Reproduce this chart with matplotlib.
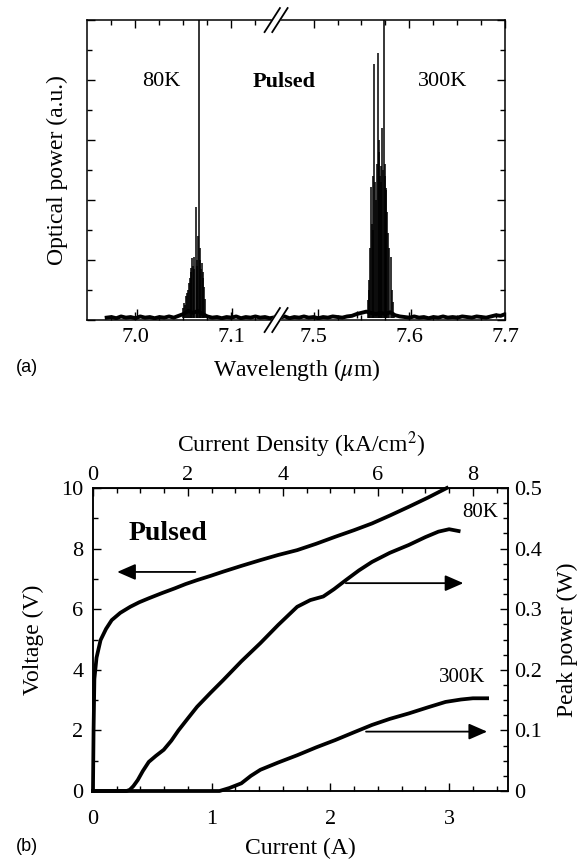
import matplotlib.pyplot as plt
from matplotlib.ticker import MultipleLocator, FixedLocator, FuncFormatter

plt.rcParams['font.family'] = ['Liberation Serif', 'DejaVu Serif']
plt.rcParams['mathtext.fontset'] = 'stix'

# ---------------- panel (a): lasing spectra ----------------
GAP = 0.3144      # wavelength cut out by the axis break (um)
BREAK_U = 7.1466  # position of the break on the plotting axis

# baseline noise, 80K side
base_l_wl = [6.970, 6.975, 6.980, 6.985, 6.990, 6.995, 7.000, 7.005, 7.010, 7.015,
             7.020, 7.025, 7.030, 7.035, 7.040, 7.045, 7.050, 7.055, 7.060, 7.065,
             7.070, 7.075, 7.080, 7.085, 7.090, 7.095, 7.100, 7.105, 7.110, 7.115,
             7.120, 7.125, 7.130, 7.135, 7.140, 7.1466]
base_l = [0.04, 0.05, 0.03, 0.06, 0.04, 0.05, 0.03, 0.06, 0.04, 0.05,
          0.03, 0.05, 0.04, 0.06, 0.04, 0.07, 0.10, 0.15, 0.12, 0.15,
          0.10, 0.06, 0.04, 0.05, 0.03, 0.05, 0.04, 0.06, 0.03, 0.05,
          0.04, 0.06, 0.04, 0.05, 0.03, 0.05]

# baseline noise, 300K side
base_r_wl = [7.461, 7.465, 7.470, 7.475, 7.480, 7.485, 7.490, 7.495, 7.500, 7.505,
             7.510, 7.515, 7.520, 7.525, 7.530, 7.535, 7.540, 7.545, 7.550, 7.555,
             7.560, 7.565, 7.570, 7.575, 7.580, 7.585, 7.590, 7.595, 7.600, 7.605,
             7.610, 7.615, 7.620, 7.625, 7.630, 7.635, 7.640, 7.645, 7.650, 7.655,
             7.660, 7.665, 7.670, 7.675, 7.680, 7.685, 7.690, 7.695, 7.700]
base_r = [0.05, 0.04, 0.06, 0.03, 0.05, 0.04, 0.06, 0.04, 0.05, 0.03,
          0.05, 0.04, 0.06, 0.05, 0.04, 0.06, 0.07, 0.10, 0.12, 0.14,
          0.12, 0.10, 0.12, 0.10, 0.13, 0.08, 0.06, 0.05, 0.04, 0.06,
          0.04, 0.05, 0.03, 0.05, 0.04, 0.06, 0.04, 0.05, 0.04, 0.06,
          0.05, 0.04, 0.06, 0.05, 0.04, 0.06, 0.08, 0.07, 0.10]

# small isolated noise spikes
spike_wl = [7.002, 7.101, 7.505, 7.545, 7.602, 7.690]
spike_h = [0.18, 0.20, 0.18, 0.15, 0.18, 0.12]

# longitudinal modes, 80K
m80_wl = [7.0491, 7.0502, 7.0512, 7.0522, 7.0533, 7.0543, 7.0553, 7.0564, 7.0575,
          7.0584, 7.0590, 7.0598, 7.0606, 7.0615, 7.0630, 7.0638, 7.0645, 7.0652,
          7.0660, 7.0668, 7.0676, 7.0684, 7.0692, 7.0699, 7.0706, 7.0713, 7.0720]
m80_h = [0.20, 0.28, 0.25, 0.40, 0.45, 0.50, 0.62, 0.70, 0.87,
         0.80, 1.03, 0.90, 1.05, 0.85, 1.89, 1.00, 0.90, 1.40,
         5.60, 1.20, 1.00, 0.85, 0.95, 0.80, 0.70, 0.55, 0.35]

# longitudinal modes, 300K
m300_wl = [7.5564, 7.5574, 7.5583, 7.5590, 7.5596, 7.5605, 7.5615, 7.5625, 7.5634,
           7.5644, 7.5653, 7.5663, 7.5673, 7.5680, 7.5687, 7.5694, 7.5700, 7.5708,
           7.5716, 7.5724, 7.5733, 7.5740, 7.5746, 7.5753, 7.5759, 7.5768, 7.5778,
           7.5790, 7.5806, 7.5817, 7.5827, 7.5837]
m300_h = [0.33, 0.50, 0.67, 1.20, 2.22, 1.60, 1.50, 2.40, 4.27,
          2.30, 2.00, 2.60, 4.45, 2.80, 3.00, 2.40, 2.56, 2.30,
          3.20, 2.50, 5.60, 2.60, 2.40, 2.20, 2.17, 1.80, 1.45,
          1.20, 1.05, 0.50, 0.30, 0.12]

wl_ticks = [7.0, 7.1, 7.5, 7.6, 7.7]
wl_minor = [6.975, 7.025, 7.05, 7.075, 7.125, 7.525, 7.55, 7.575, 7.625, 7.65, 7.675]

# ---------------- panel (b): L-I-V ----------------
v_i = [0.0, 0.005, 0.012, 0.03, 0.064, 0.11, 0.158, 0.23, 0.314, 0.39, 0.47, 0.58,
       0.69, 0.78, 0.877, 0.99, 1.097, 1.25, 1.41, 1.56, 1.72, 1.88, 2.04, 2.2,
       2.35, 2.5, 2.66, 2.82, 2.98]
v_v = [0.0, 2.0, 3.7, 4.4, 4.98, 5.35, 5.64, 5.88, 6.08, 6.23, 6.36, 6.53,
       6.69, 6.83, 6.96, 7.10, 7.24, 7.43, 7.62, 7.79, 7.95, 8.16, 8.39, 8.61,
       8.83, 9.09, 9.38, 9.68, 10.0]

p80_i = [0.0, 0.283, 0.31, 0.34, 0.377, 0.42, 0.47, 0.53, 0.596, 0.66, 0.72, 0.80,
         0.877, 0.99, 1.097, 1.25, 1.41, 1.56, 1.72, 1.83, 1.94, 2.03, 2.13, 2.24,
         2.35, 2.5, 2.66, 2.8, 2.91, 3.0, 3.08]
p80_p = [0.0, 0.0, 0.002, 0.008, 0.018, 0.033, 0.048, 0.058, 0.068, 0.083, 0.10, 0.12,
         0.139, 0.162, 0.183, 0.214, 0.244, 0.274, 0.304, 0.315, 0.321, 0.333, 0.348, 0.364,
         0.378, 0.393, 0.406, 0.419, 0.428, 0.432, 0.429]

p300_i = [0.0, 1.066, 1.15, 1.25, 1.33, 1.41, 1.56, 1.72, 1.88, 2.04, 2.2, 2.35,
          2.5, 2.66, 2.82, 2.97, 3.1, 3.2, 3.32]
p300_p = [0.0, 0.0, 0.005, 0.0127, 0.025, 0.035, 0.047, 0.059, 0.072, 0.084, 0.097, 0.109,
          0.119, 0.128, 0.138, 0.147, 0.151, 0.153, 0.153]

J_PER_A = 2.5  # kA/cm^2 per A
j_ticks = [0, 2, 4, 6, 8]
j_minor = [0.5, 1, 1.5, 2.5, 3, 3.5, 4.5, 5, 5.5, 6.5, 7, 7.5, 8.5]


def to_u(wl):
    # map wavelength onto the broken axis
    return [w if w < 7.3 else w - GAP for w in wl]


fig = plt.figure(figsize=(5.84, 8.61), dpi=100)

# ===== (a) =====
ax1 = fig.add_axes([0.1498, 0.6283, 0.7156, 0.3484])
ax1.plot(to_u(base_l_wl), base_l, color='k', lw=2.8)
ax1.plot(to_u(base_r_wl), base_r, color='k', lw=2.8)
ax1.vlines(to_u(spike_wl), 0.03, spike_h, color='k', lw=1.0)
ax1.vlines(to_u(m80_wl), 0.03, m80_h, color='k', lw=1.1)
ax1.vlines(to_u(m300_wl), 0.03, m300_h, color='k', lw=1.1)

ax1.set_xlim(6.95, 7.7 - GAP)
ax1.set_ylim(0, 5)
ax1.xaxis.set_major_locator(FixedLocator(to_u(wl_ticks)))
ax1.set_xticklabels(['%.1f' % w for w in wl_ticks])
ax1.xaxis.set_minor_locator(FixedLocator(to_u(wl_minor)))
ax1.yaxis.set_major_locator(MultipleLocator(1))
ax1.yaxis.set_minor_locator(MultipleLocator(0.5))
ax1.tick_params(which='both', direction='in', top=True, right=True, width=1.0,
                labelsize=16, labelleft=False, pad=6)
ax1.tick_params(which='major', length=6)
ax1.tick_params(which='minor', length=3.5)
for s in ax1.spines.values():
    s.set_linewidth(1.1)
ax1.set_xlabel(r'Wavelength ($\mu$m)', fontsize=17, labelpad=7)
ax1.set_ylabel('Optical power (a.u.)', fontsize=17, labelpad=14)

ax1.text(7.0266, 3.97, '80K', fontsize=16, ha='center', va='center')
ax1.text(7.155, 3.97, 'Pulsed', fontsize=16, fontweight='bold', ha='center', va='center')
ax1.text(7.32, 3.97, '300K', fontsize=16, ha='center', va='center')

# axis break marks
tr = ax1.get_xaxis_transform()
for yc in (0.0, 1.0):
    ax1.fill([BREAK_U - 0.012, BREAK_U - 0.004, BREAK_U + 0.012, BREAK_U + 0.004],
             [yc - 0.04, yc - 0.04, yc + 0.04, yc + 0.04], color='white',
             transform=tr, clip_on=False, zorder=5)
    for dx in (-0.004, 0.004):
        ax1.plot([BREAK_U + dx - 0.008, BREAK_U + dx + 0.008], [yc - 0.04, yc + 0.04],
                 color='k', lw=1.3, transform=tr, clip_on=False, zorder=6)

fig.text(0.027, 0.5726, '(a)', fontsize=13, family='Liberation Sans', va='center')

# ===== (b) =====
ax = fig.add_axes([0.1592, 0.0813, 0.7115, 0.3519])
ax2 = ax.twinx()
ax.plot(v_i, v_v, color='k', lw=2.7, clip_on=False)
ax2.plot(p80_i, p80_p, color='k', lw=2.7, clip_on=False)
ax2.plot(p300_i, p300_p, color='k', lw=2.7, clip_on=False)

ax.set_xlim(0, 3.5)
ax.set_ylim(0, 10)
ax2.set_ylim(0, 0.5)

ax.xaxis.set_major_locator(MultipleLocator(1))
ax.xaxis.set_minor_locator(MultipleLocator(0.2))
ax.yaxis.set_major_locator(MultipleLocator(2))
ax.yaxis.set_minor_locator(MultipleLocator(1))
ax2.yaxis.set_major_locator(MultipleLocator(0.1))
ax2.yaxis.set_minor_locator(MultipleLocator(0.025))
ax2.yaxis.set_major_formatter(FuncFormatter(lambda v, _: '0' if abs(v) < 1e-9 else '%.1f' % v))

top = ax.secondary_xaxis('top', functions=(lambda i: i * J_PER_A, lambda j: j / J_PER_A))
top.xaxis.set_major_locator(FixedLocator(j_ticks))
top.xaxis.set_minor_locator(FixedLocator(j_minor))

for a in (ax, ax2, top):
    a.tick_params(which='both', direction='in', width=1.0, labelsize=16)
    a.tick_params(which='major', length=6)
    a.tick_params(which='minor', length=3.5)
ax.tick_params(axis='x', which='both', pad=14)
ax.tick_params(axis='y', which='both', pad=7)
ax2.tick_params(which='both', pad=4)
top.tick_params(which='both', pad=2)
for s in ax.spines.values():
    s.set_linewidth(1.1)
for s in ax2.spines.values():
    s.set_linewidth(1.1)

ax.set_xlabel('Current (A)', fontsize=17, labelpad=6)
ax.set_ylabel('Voltage (V)', fontsize=17, labelpad=12)
ax2.set_ylabel('Peak power (W)', fontsize=17, labelpad=11)
top.set_xlabel('Current Density (kA/cm$^2$)', fontsize=17, labelpad=10)

ax.text(0.298, 8.51, 'Pulsed', fontsize=20, fontweight='bold', ha='left', va='center')
ax.text(3.26, 9.2, '80K', fontsize=15, ha='center', va='center')
ax.text(3.11, 3.76, '300K', fontsize=15, ha='center', va='center')

arrow = dict(arrowstyle='-|>,head_length=0.8,head_width=0.35', mutation_scale=14,
             lw=1.3, color='k', shrinkA=0, shrinkB=0)
ax.annotate('', xy=(0.204, 7.23), xytext=(0.862, 7.23), arrowprops=arrow)
ax.annotate('', xy=(3.12, 6.86), xytext=(2.13, 6.86), arrowprops=arrow)
ax.annotate('', xy=(3.32, 1.96), xytext=(2.30, 1.96), arrowprops=arrow)

fig.text(0.027, 0.0163, '(b)', fontsize=13, family='Liberation Sans', va='center')

fig.savefig('out.png', dpi=100)
